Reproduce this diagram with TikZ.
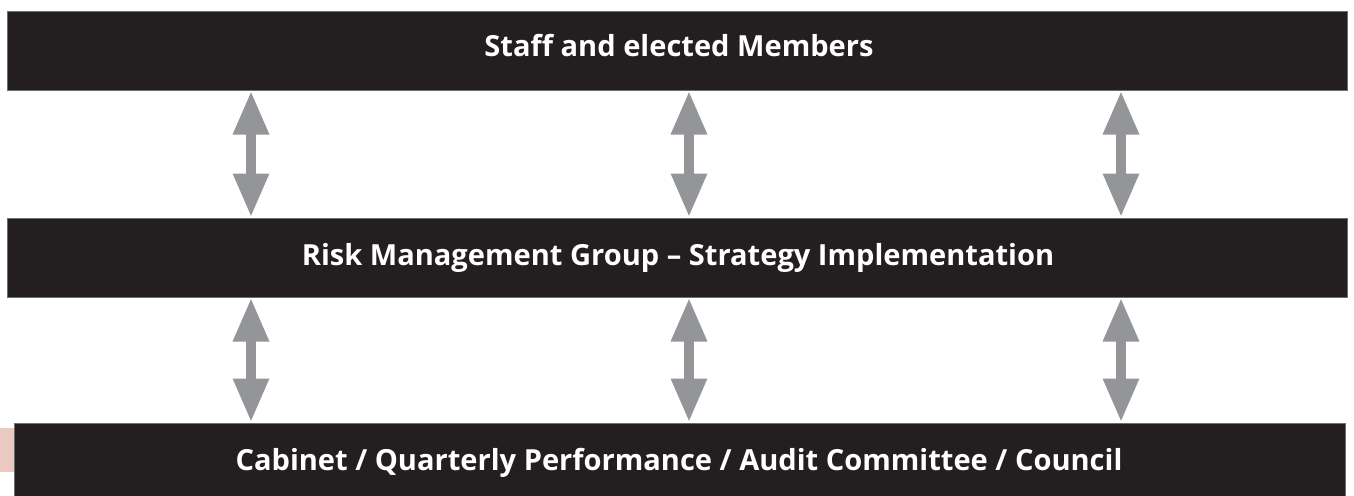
\documentclass[tikz,border=0pt]{standalone}
\usepackage{fontspec}
\setmainfont{Open Sans}
\usetikzlibrary{arrows.meta}

\definecolor{barblack}{HTML}{231F20}
\definecolor{baredge}{HTML}{6D6E71}
\definecolor{arrowgrey}{HTML}{939598}
\definecolor{pinktab}{HTML}{E9C9C0}

\tikzset{
  bar/.style={draw=baredge, line width=0.75pt, fill=barblack, inner sep=0pt},
  bartext/.style={text=white, anchor=base, font=\fontsize{21.8}{26}\selectfont\bfseries},
  link/.style={draw=arrowgrey, line width=8pt,
    {Triangle[width=25pt, length=33pt]}-{Triangle[width=25pt, length=33pt]}}
}

\begin{document}
\begin{tikzpicture}[x=0.75pt, y=-0.75pt]
    \useasboundingbox (0,0) rectangle (1354,496);

    % Side tab
    \fill[pinktab] (0,428) rectangle (14,472);

    % Bars
    \node[bar, minimum width=1005pt, minimum height=59.25pt] (top) at (677,50.5) {};
    \node[bar, minimum width=1005pt, minimum height=59.25pt] (mid) at (677,257.5) {};
    \node[bar, minimum width=998.25pt, minimum height=64.5pt] (bot) at (679.5,466) {};

    % Bar texts
    \node[bartext] (staff) at (679,56) {Staff and elected Members};
    \node[bartext] (rmg) at (678,265) {Risk Management Group -- Strategy Implementation};
    \node[bartext] (cab) at (679,470) {Cabinet / Quarterly Performance / Audit Committee / Council};

    % Connections
    \foreach \x [count=\i] in {251, 689, 1121} {
      \coordinate (c\i) at (\x,0);
      \draw[link] (top.south -| c\i) -- (mid.north -| c\i);
      \draw[link] (mid.south -| c\i) -- (bot.north -| c\i);
    }
\end{tikzpicture}
\end{document}
